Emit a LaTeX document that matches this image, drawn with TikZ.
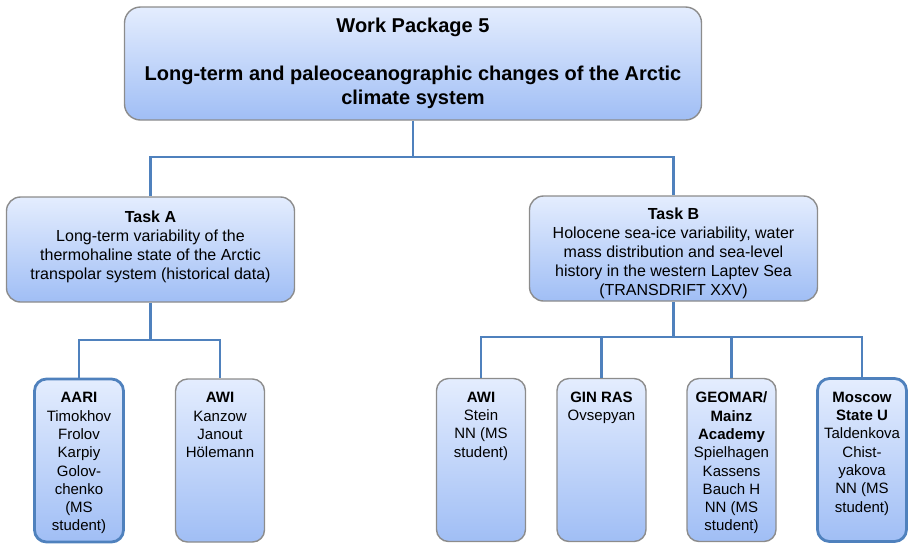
\documentclass[tikz,border=0pt]{standalone}
\usepackage{fontspec}
\setmainfont{Liberation Sans}
\usepackage{xcolor}
\usepackage{tikz}
\usetikzlibrary{positioning}

\definecolor{boxtop}{RGB}{228,237,254}
\definecolor{boxbot}{RGB}{160,190,245}
\definecolor{linkblue}{RGB}{79,129,189}
\definecolor{rimgray}{RGB}{140,140,140}

\newcommand{\leafbody}[1]{\parbox[c][136pt][t]{86pt}{\centering #1}}

\begin{document}
\begin{tikzpicture}
  [x=1pt,y=-1pt,
   every node/.style={rounded corners=12pt,top color=boxtop,bottom color=boxbot,
     draw=rimgray,line width=1.4pt,inner sep=0pt,align=center},
   wpbox/.style={minimum width=577pt,minimum height=113pt,rounded corners=16pt,
     font=\fontsize{20}{24}\selectfont\bfseries},
   taskbox/.style={minimum width=288pt,minimum height=105pt,rounded corners=14pt,
     font=\fontsize{16}{19}\selectfont},
   leafbox/.style={minimum width=89pt,minimum height=163pt,
     font=\fontsize{15}{18.3}\selectfont},
   keybox/.style={leafbox,draw=linkblue,line width=2.8pt},
   link/.style={draw=linkblue,line width=2.5pt}]
  \useasboundingbox (0,0) rectangle (912,547);

  \node[wpbox] (wp) at (413,63.5)
    {Work Package 5\\[24pt]Long-term and paleoceanographic changes of the Arctic\\climate system};

  \node[taskbox] (taskA) at (150.5,249.5)
    {\textbf{Task A}\\Long-term variability of the\\thermohaline state of the Arctic\\transpolar system (historical data)\rule[-8pt]{0pt}{8pt}};
  \node[taskbox] (taskB) at (673.5,248.5)
    {\rule{0pt}{22pt}\textbf{Task B}\\Holocene sea-ice variability, water\\mass distribution and sea-level\\history in the western Laptev Sea\\(TRANSDRIFT XXV)};

  \node[keybox] (aari) at (79,460.5)
    {\leafbody{\textbf{AARI}\\Timokhov\\Frolov\\Karpiy\\Golov-\\chenko\\(MS\\student)}};
  \node[leafbox] (awiA) at (220,460.5)
    {\leafbody{\textbf{AWI}\\Kanzow\\Janout\\Hölemann}};

  \node[leafbox] (awiB) at (481,460)
    {\leafbody{\textbf{AWI}\\Stein\\NN (MS\\student)}};
  \node[leafbox] (ginras) at (601.5,460)
    {\leafbody{\textbf{GIN RAS}\\Ovsepyan}};
  \node[leafbox] (geomar) at (731.5,460)
    {\leafbody{\textbf{GEOMAR/}\\\textbf{Mainz}\\\textbf{Academy}\\Spielhagen\\Kassens\\Bauch H\\NN (MS\\student)}};
  \node[keybox] (msu) at (862,460)
    {\leafbody{\textbf{Moscow}\\\textbf{State U}\\Taldenkova\\Chist-\\yakova\\NN (MS\\student)}};

  \coordinate (forkwp) at (413,157);
  \coordinate (forkA) at (150.5,340);
  \coordinate (forkB) at (673.5,337);

  \path[link] (wp) -- (forkwp) (taskA) -- (forkA) (taskB) -- (forkB);
  \foreach \from/\to in {forkwp/taskA,forkwp/taskB,forkA/aari,forkA/awiA,
      forkB/awiB,forkB/ginras,forkB/geomar,forkB/msu}
    \path[link] (\from) -| (\to);

\end{tikzpicture}
\end{document}
